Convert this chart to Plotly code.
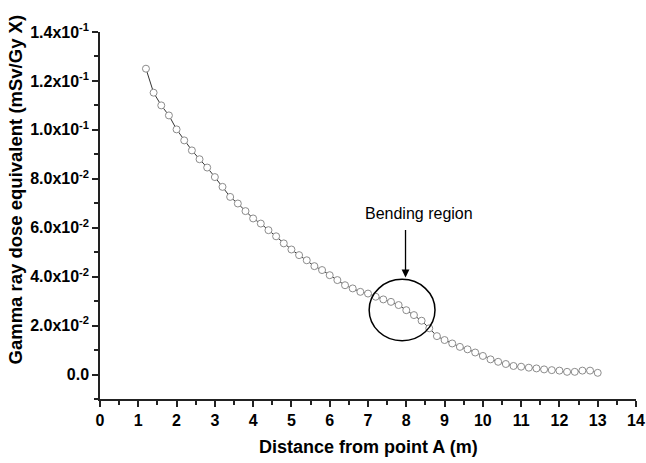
import plotly.graph_objects as go

distance_m = [1.2, 1.4, 1.6, 1.8, 2.0, 2.2, 2.4, 2.6, 2.8, 3.0,
              3.2, 3.4, 3.6, 3.8, 4.0, 4.2, 4.4, 4.6, 4.8, 5.0,
              5.2, 5.4, 5.6, 5.8, 6.0, 6.2, 6.4, 6.6, 6.8, 7.0,
              7.2, 7.4, 7.6, 7.8, 8.0, 8.2, 8.4, 8.6, 8.8, 9.0,
              9.2, 9.4, 9.6, 9.8, 10.0, 10.2, 10.4, 10.6, 10.8, 11.0,
              11.2, 11.4, 11.6, 11.8, 12.0, 12.2, 12.4, 12.6, 12.8, 13.0]
dose_equiv = [0.1250, 0.1152, 0.1100, 0.1059, 0.1002, 0.0957, 0.0916, 0.0880, 0.0846, 0.0807,
              0.0767, 0.0726, 0.0699, 0.0668, 0.0638, 0.0617, 0.0590, 0.0565, 0.0536, 0.0511,
              0.0488, 0.0467, 0.0443, 0.0427, 0.0406, 0.0386, 0.0365, 0.0352, 0.0338, 0.0331,
              0.0318, 0.0307, 0.0297, 0.0284, 0.0263, 0.0243, 0.0220, 0.0189, 0.0157, 0.0141,
              0.0127, 0.0113, 0.0103, 0.0090, 0.0076, 0.0062, 0.0052, 0.0043, 0.0035, 0.0032,
              0.0028, 0.0025, 0.0021, 0.0018, 0.0016, 0.0011, 0.0011, 0.0016, 0.0016, 0.0007]

x_ticks = list(range(0, 15))
y_tickvals = [0.0, 0.02, 0.04, 0.06, 0.08, 0.10, 0.12, 0.14]
y_ticktext = ["0.0", "2.0x10<sup>-2</sup>", "4.0x10<sup>-2</sup>", "6.0x10<sup>-2</sup>",
              "8.0x10<sup>-2</sup>", "1.0x10<sup>-1</sup>", "1.2x10<sup>-1</sup>", "1.4x10<sup>-1</sup>"]
y_minor = [-0.01, 0.01, 0.03, 0.05, 0.07, 0.09, 0.11, 0.13]
x_minor = [v + 0.5 for v in range(0, 14)]

FONT = "Arial, Liberation Sans, sans-serif"

fig = go.Figure()
fig.add_trace(go.Scatter(
    x=distance_m, y=dose_equiv, mode="lines+markers",
    line=dict(color="#333333", width=1),
    marker=dict(symbol="circle", size=7, color="white",
                line=dict(color="#8c8c8c", width=1)),
    showlegend=False,
))

fig.update_layout(
    width=646, height=463,
    margin=dict(l=100, r=10, t=32, b=64),
    paper_bgcolor="white", plot_bgcolor="white",
    font=dict(family=FONT, color="black"),
    xaxis=dict(
        range=[0, 14], tickmode="array", tickvals=x_ticks, automargin=False,
        ticks="outside", ticklen=6, tickwidth=1.5, tickcolor="#222",
        showline=True, linecolor="#222", linewidth=1.5,
        showgrid=False, zeroline=False,
        tickfont=dict(family=FONT, size=16, color="black", weight="bold"),
        minor=dict(tickvals=x_minor, ticks="outside", ticklen=4, tickwidth=1.5,
                   tickcolor="#222", showgrid=False),
    ),
    yaxis=dict(
        range=[-0.01, 0.14], tickmode="array", tickvals=y_tickvals, ticktext=y_ticktext,
        automargin=False,
        ticks="outside", ticklen=6, tickwidth=1.5, tickcolor="#222",
        showline=True, linecolor="#222", linewidth=1.5,
        showgrid=False, zeroline=False,
        tickfont=dict(family=FONT, size=16, color="black", weight="bold"),
        minor=dict(tickvals=y_minor, ticks="outside", ticklen=4, tickwidth=1.5,
                   tickcolor="#222", showgrid=False),
    ),
)

# axis titles
fig.add_annotation(text="<b>Distance from point A (m)</b>", xref="paper", yref="paper",
                   x=0.5, y=0, yshift=-48, showarrow=False, yanchor="middle",
                   font=dict(family=FONT, size=18, color="black"))
fig.add_annotation(text="<b>Gamma ray dose equivalent (mSv/Gy X)</b>", xref="paper", yref="paper",
                   x=0, xshift=-85, y=0.5, yshift=26, textangle=-90, showarrow=False,
                   xanchor="center", yanchor="middle",
                   font=dict(family=FONT, size=18.5, color="black"))

# bending region annotation
fig.add_shape(type="circle", xref="x", yref="y", x0=7.03, x1=8.75, y0=0.0138, y1=0.0389,
              line=dict(color="black", width=1.5))
fig.add_annotation(x=7.98, y=0.0397, ax=7.98, ay=0.0597, axref="x", ayref="y",
                   xref="x", yref="y", text="", showarrow=True,
                   arrowhead=2, arrowsize=1.2, arrowwidth=1.3, arrowcolor="black")
fig.add_annotation(x=8.33, y=0.0660, xref="x", yref="y", text="Bending region",
                   showarrow=False, font=dict(family=FONT, size=16, color="black"))

fig.write_html("out.html",
               config={"displayModeBar": False},
               post_script="document.body.style.margin='0';document.body.style.overflow='hidden';")
